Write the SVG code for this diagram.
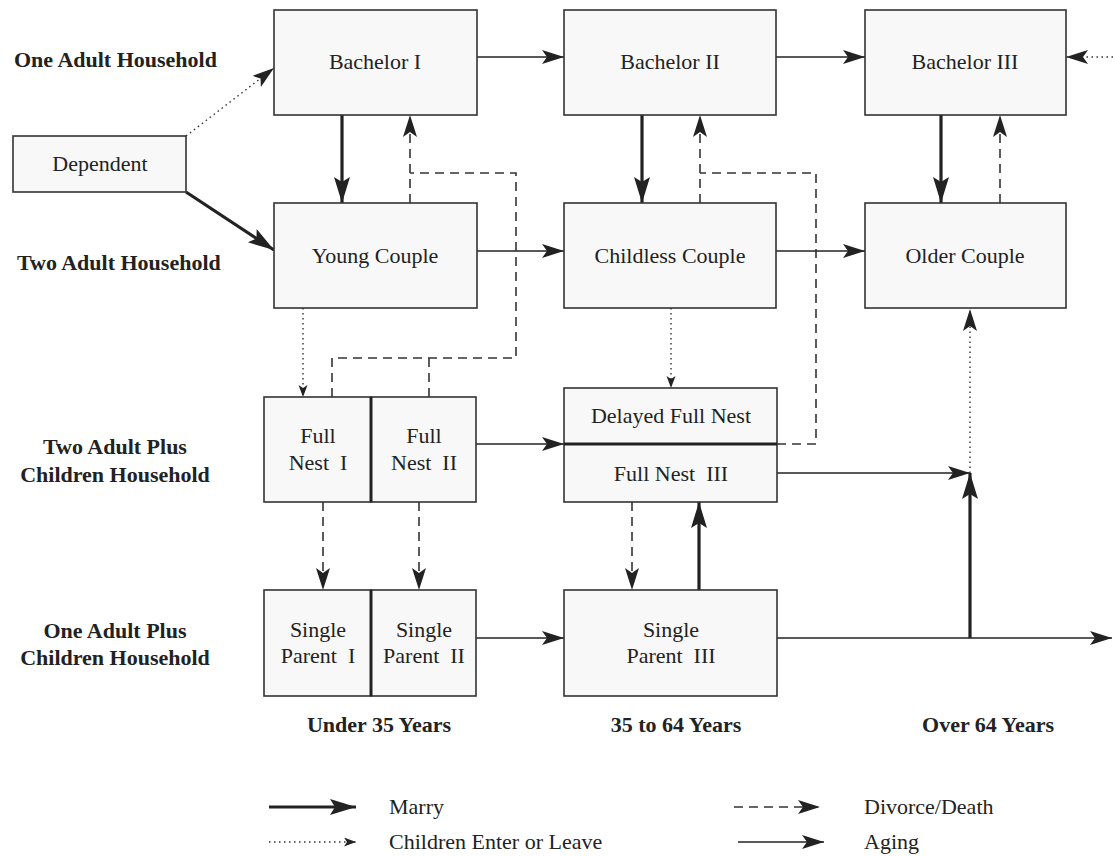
<svg xmlns="http://www.w3.org/2000/svg" width="1113" height="856" viewBox="0 0 1113 856">
<style>
.box{fill:#f8f8f8;stroke:#333;stroke-width:1.6}
.t{font-family:"Liberation Serif","Times New Roman",serif;font-size:22px;fill:#222;text-anchor:middle}
.b{font-family:"Liberation Serif","Times New Roman",serif;font-size:22px;font-weight:bold;fill:#222}
.lg{font-family:"Liberation Serif","Times New Roman",serif;font-size:22px;fill:#222}
.age{fill:none;stroke:#222;stroke-width:1.6}
.mar{fill:none;stroke:#222;stroke-width:3.2}
.dsh{fill:none;stroke:#333;stroke-width:1.6;stroke-dasharray:9 6}
.dot{fill:none;stroke:#333;stroke-width:1.4;stroke-dasharray:1.5 3.5}
</style>
<defs>
<marker id="mA" markerUnits="userSpaceOnUse" markerWidth="24" markerHeight="16" refX="22" refY="7" orient="auto"><path d="M0,0 L22,7 L0,14 L5,7 Z" fill="#222"/></marker>
<marker id="mM" markerUnits="userSpaceOnUse" markerWidth="28" markerHeight="18" refX="26" refY="8" orient="auto"><path d="M0,0 L26,8 L0,16 L5,8 Z" fill="#222"/></marker>
<marker id="mD" markerUnits="userSpaceOnUse" markerWidth="24" markerHeight="16" refX="22" refY="7" orient="auto"><path d="M0,0 L22,7 L0,14 L5,7 Z" fill="#222"/></marker>
<marker id="mS" markerUnits="userSpaceOnUse" markerWidth="14" markerHeight="10" refX="12" refY="4.5" orient="auto"><path d="M0,0 L12,4.5 L0,9 L3,4.5 Z" fill="#222"/></marker>
</defs>

<g id="labels">
<text class="b" x="14" y="67">One Adult Household</text>
<text class="b" x="17" y="270">Two Adult Household</text>
<text class="b" x="115" y="454" text-anchor="middle">Two Adult Plus</text>
<text class="b" x="115" y="482" text-anchor="middle">Children Household</text>
<text class="b" x="115" y="638" text-anchor="middle">One Adult Plus</text>
<text class="b" x="115" y="665" text-anchor="middle">Children Household</text>
<text class="b" x="379" y="732" text-anchor="middle">Under 35 Years</text>
<text class="b" x="676" y="732" text-anchor="middle">35 to 64 Years</text>
<text class="b" x="988" y="732" text-anchor="middle">Over 64 Years</text>
</g>

<g id="connectors">
<!-- aging -->
<line class="age" x1="477" y1="57" x2="564" y2="57" marker-end="url(#mA)"/>
<line class="age" x1="776" y1="57" x2="865" y2="57" marker-end="url(#mA)"/>
<line class="age" x1="477" y1="251" x2="564" y2="251" marker-end="url(#mA)"/>
<line class="age" x1="776" y1="251" x2="865" y2="251" marker-end="url(#mA)"/>
<line class="age" x1="476" y1="444" x2="564" y2="444" marker-end="url(#mA)"/>
<line class="age" x1="476" y1="638" x2="564" y2="638" marker-end="url(#mA)"/>
<line class="age" x1="777" y1="473" x2="970" y2="473" marker-end="url(#mA)"/>
<line class="age" x1="777" y1="638" x2="1112" y2="638" marker-end="url(#mA)"/>
<!-- marry -->
<line class="mar" x1="186" y1="192" x2="274" y2="250" marker-end="url(#mM)"/>
<line class="mar" x1="342" y1="115" x2="342" y2="203" marker-end="url(#mM)"/>
<line class="mar" x1="642" y1="115" x2="642" y2="203" marker-end="url(#mM)"/>
<line class="mar" x1="941" y1="115" x2="941" y2="203" marker-end="url(#mM)"/>
<line class="mar" x1="699" y1="590" x2="699" y2="502" marker-end="url(#mM)"/>
<line class="mar" x1="970" y1="638" x2="970" y2="473" marker-end="url(#mM)"/>
<!-- divorce/death -->
<line class="dsh" x1="410" y1="203" x2="410" y2="115" marker-end="url(#mD)"/>
<line class="dsh" x1="700" y1="203" x2="700" y2="115" marker-end="url(#mD)"/>
<line class="dsh" x1="1000" y1="203" x2="1000" y2="115" marker-end="url(#mD)"/>
<path class="dsh" d="M332,397 V358 H516 V173 H410"/>
<line class="dsh" x1="429" y1="397" x2="429" y2="358"/>
<path class="dsh" d="M777,444 H816 V173 H700"/>
<line class="dsh" x1="323" y1="502" x2="323" y2="590" marker-end="url(#mD)"/>
<line class="dsh" x1="419" y1="502" x2="419" y2="590" marker-end="url(#mD)"/>
<line class="dsh" x1="632" y1="502" x2="632" y2="590" marker-end="url(#mD)"/>
<!-- children enter or leave -->
<line class="dot" x1="186" y1="136" x2="274" y2="68" marker-end="url(#mD)"/>
<line class="dot" x1="303" y1="308" x2="303" y2="397" marker-end="url(#mS)"/>
<line class="dot" x1="671" y1="308" x2="671" y2="388" marker-end="url(#mS)"/>
<line class="dot" x1="970" y1="473" x2="970" y2="309" marker-end="url(#mD)"/>
<line class="dot" x1="1113" y1="57" x2="1066" y2="57" marker-end="url(#mD)"/>
</g>

<g id="dependent"><rect class="box" x="13" y="136" width="173" height="56"/><text class="t" x="100" y="171">Dependent</text></g>
<g id="bachelor1"><rect class="box" x="274" y="10" width="203" height="105"/><text class="t" x="375" y="69">Bachelor I</text></g>
<g id="bachelor2"><rect class="box" x="564" y="10" width="212" height="105"/><text class="t" x="670" y="69">Bachelor II</text></g>
<g id="bachelor3"><rect class="box" x="865" y="10" width="201" height="105"/><text class="t" x="965" y="69">Bachelor III</text></g>
<g id="youngcouple"><rect class="box" x="274" y="203" width="203" height="105"/><text class="t" x="375" y="263">Young Couple</text></g>
<g id="childlesscouple"><rect class="box" x="564" y="203" width="212" height="105"/><text class="t" x="670" y="263">Childless Couple</text></g>
<g id="oldercouple"><rect class="box" x="865" y="203" width="201" height="105"/><text class="t" x="965" y="263">Older Couple</text></g>
<g id="fullnest1"><rect class="box" x="264" y="397" width="107" height="105"/><text class="t" x="318" y="443">Full</text><text class="t" x="318" y="470" xml:space="preserve">Nest  I</text></g>
<g id="fullnest2"><rect class="box" x="371" y="397" width="105" height="105"/><text class="t" x="424" y="443">Full</text><text class="t" x="424" y="470" xml:space="preserve">Nest  II</text></g>
<line x1="371" y1="397" x2="371" y2="502" stroke="#222" stroke-width="3"/>
<g id="fullnest3"><rect class="box" x="564" y="388" width="213" height="114"/><line x1="564" y1="444" x2="777" y2="444" stroke="#222" stroke-width="3"/><text class="t" x="671" y="423">Delayed Full Nest</text><text class="t" x="671" y="481" xml:space="preserve">Full Nest  III</text></g>
<g id="singleparent1"><rect class="box" x="264" y="590" width="107" height="106"/><text class="t" x="318" y="637">Single</text><text class="t" x="318" y="663" xml:space="preserve">Parent  I</text></g>
<g id="singleparent2"><rect class="box" x="371" y="590" width="105" height="106"/><text class="t" x="424" y="637">Single</text><text class="t" x="424" y="663" xml:space="preserve">Parent  II</text></g>
<line x1="371" y1="590" x2="371" y2="696" stroke="#222" stroke-width="3"/>
<g id="singleparent3"><rect class="box" x="564" y="590" width="213" height="106"/><text class="t" x="671" y="637">Single</text><text class="t" x="671" y="663" xml:space="preserve">Parent  III</text></g>

<g id="legend">
<line class="mar" x1="269" y1="807" x2="356" y2="807" marker-end="url(#mM)"/>
<text class="lg" x="389" y="814">Marry</text>
<line class="dot" x1="269" y1="842" x2="356" y2="842" marker-end="url(#mS)"/>
<text class="lg" x="389" y="849">Children Enter or Leave</text>
<line class="dsh" x1="734" y1="807" x2="820" y2="807" marker-end="url(#mD)"/>
<text class="lg" x="864" y="814">Divorce/Death</text>
<line class="age" x1="738" y1="842" x2="824" y2="842" marker-end="url(#mA)"/>
<text class="lg" x="864" y="849">Aging</text>
</g>
</svg>
